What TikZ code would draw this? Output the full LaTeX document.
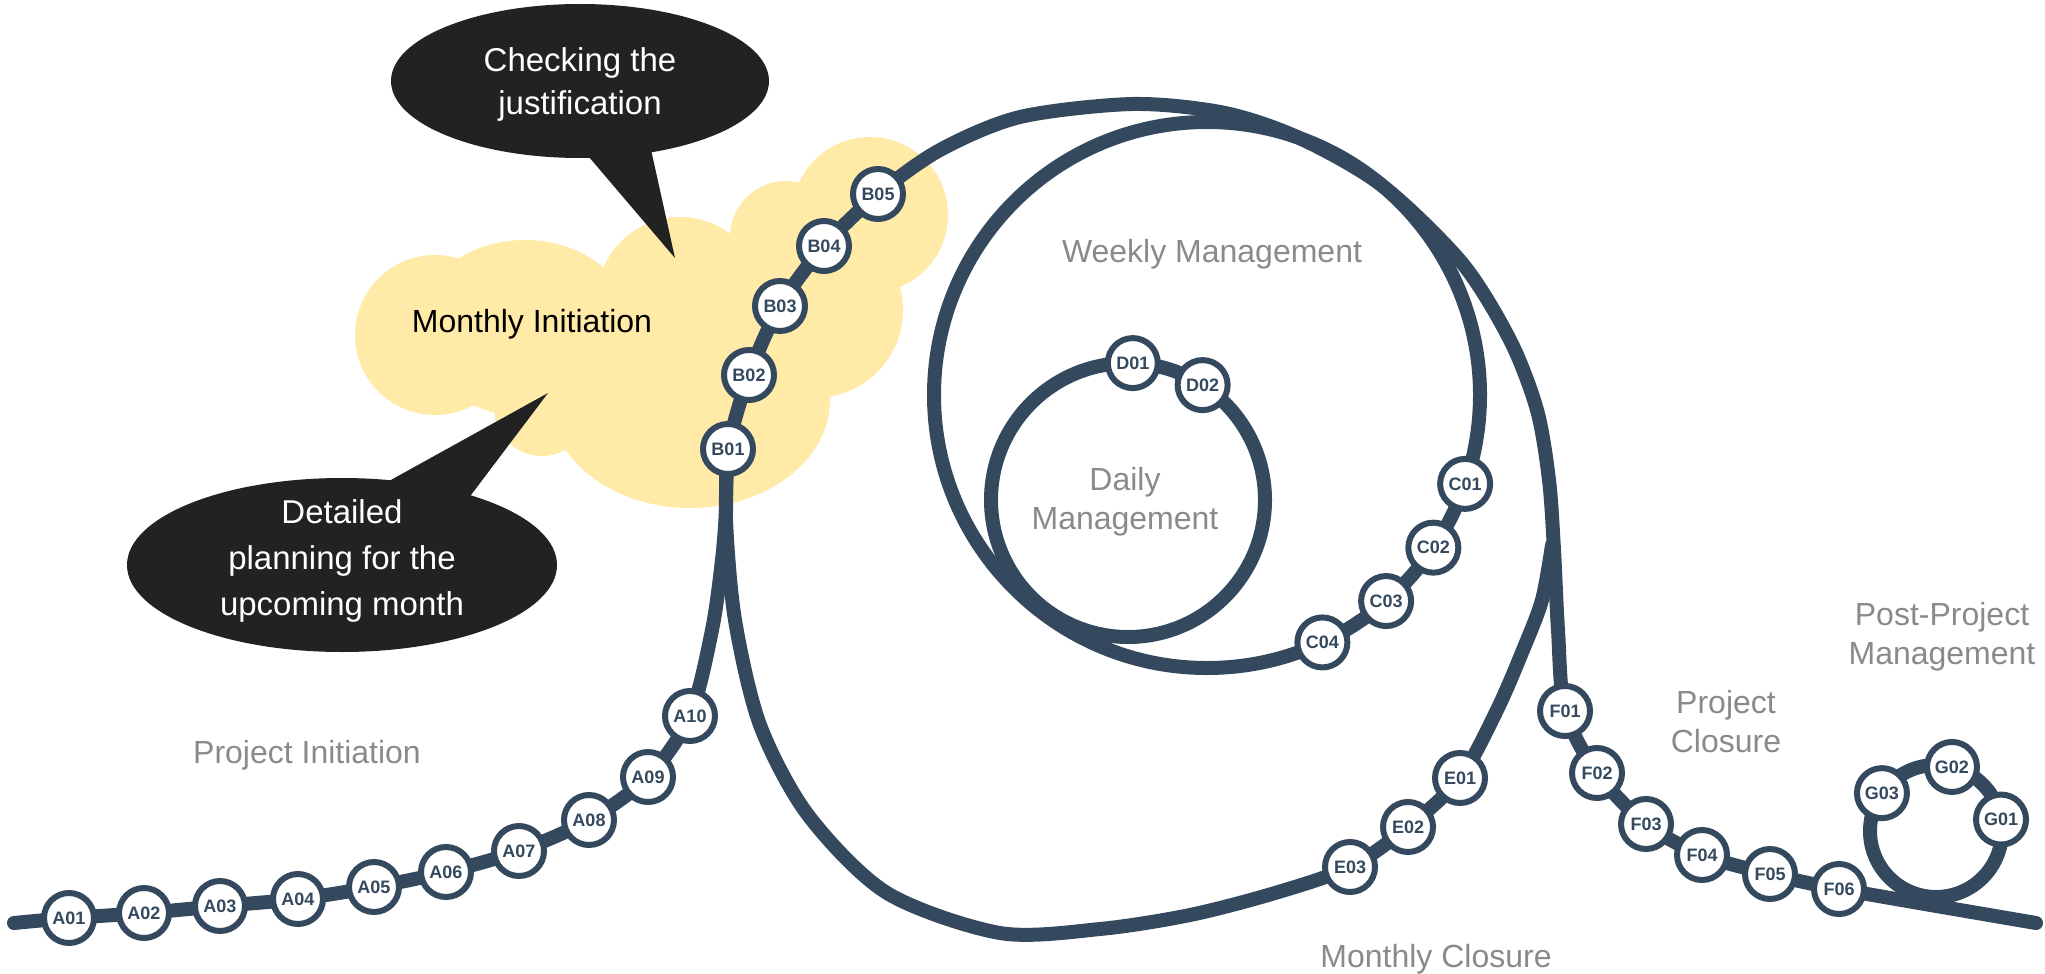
\documentclass[tikz,border=0pt]{standalone}
\usepackage{fontspec}
\setmainfont{Liberation Sans}
\usetikzlibrary{calc}

\definecolor{railblue}{HTML}{34495E}
\definecolor{phasegray}{HTML}{8A8A8A}
\definecolor{cloudyellow}{HTML}{FFEAA7}
\definecolor{bubbleblack}{HTML}{222222}

\pgfdeclarelayer{back}
\pgfdeclarelayer{rail}
\pgfsetlayers{back,rail,main}

\tikzset{
  stop/.style={circle, draw=railblue, fill=white, line width=3pt,
    minimum size=25pt, inner sep=0pt, text=railblue,
    font=\fontsize{9}{9}\selectfont\bfseries},
  track/.style={draw=railblue, line width=7pt, line cap=round, line join=round},
  phase/.style={text=phasegray, align=center, inner sep=0pt,
    font=\fontsize{16}{19.5}\selectfont},
  bubbletext/.style={text=white, align=center, inner sep=0pt},
}

\begin{document}
\begin{tikzpicture}[x=0.5pt, y=-0.5pt]
  \useasboundingbox (0,0) rectangle (2045,974);

  % loop centres
  \coordinate (weekly) at (1207,395);
  \coordinate (daily) at (1128,500);
  \coordinate (post) at (1936,831);
  \coordinate (w70) at ($(weekly)+(-70:273)$);
  \coordinate (w50) at ($(weekly)+(-50:273)$);

  % project initiation
  \node[stop] (A01) at (69,918) {A01};
  \node[stop] (A02) at (144,913) {A02};
  \node[stop] (A03) at (220,906) {A03};
  \node[stop] (A04) at (298,899) {A04};
  \node[stop] (A05) at (374,887) {A05};
  \node[stop] (A06) at (446,872) {A06};
  \node[stop] (A07) at (519,851) {A07};
  \node[stop] (A08) at (589,820) {A08};
  \node[stop] (A09) at (648,777) {A09};
  \node[stop] (A10) at (690,716) {A10};
  % monthly initiation
  \node[stop] (B01) at (728,449) {B01};
  \node[stop] (B02) at (749,375) {B02};
  \node[stop] (B03) at (780,306) {B03};
  \node[stop] (B04) at (824,246) {B04};
  \node[stop] (B05) at (878,194) {B05};
  % weekly and daily loops
  \foreach \n/\a in {01/19,02/34,03/49,04/65}
    \node[stop] (C\n) at ($(weekly)+(\a:273)$) {C\n};
  \foreach \n/\a in {01/-88,02/-57}
    \node[stop] (D\n) at ($(daily)+(\a:137)$) {D\n};
  % monthly closure
  \node[stop] (E01) at (1460,778) {E01};
  \node[stop] (E02) at (1408,827) {E02};
  \node[stop] (E03) at (1350,867) {E03};
  % project closure
  \node[stop] (F01) at (1565,711) {F01};
  \node[stop] (F02) at (1597,773) {F02};
  \node[stop] (F03) at (1646,824) {F03};
  \node[stop] (F04) at (1702,855) {F04};
  \node[stop] (F05) at (1770,874) {F05};
  \node[stop] (F06) at (1839,889) {F06};
  % post-project loop
  \foreach \n/\a in {01/-10,02/-76,03/-145}
    \node[stop] (G\n) at ($(post)+(\a:66)$) {G\n};

  % phase labels
  \node[phase] (weeklylabel) at (1212,254) {Weekly Management};
  \node[phase] (dailylabel) at (1125,502) {Daily\\Management};
  \node[phase] (initlabel) at (307,755) {Project Initiation};
  \node[phase] (closelabel) at (1436,959) {Monthly Closure};
  \node[phase] (projcloselabel) at (1726,722) {Project\\Closure};
  \node[phase] (postlabel) at (1942,637) {Post-Project\\Management};
  \node[inner sep=0pt, font=\fontsize{16}{19.5}\selectfont] (monthinit) at (532,324) {Monthly Initiation};

  % callouts
  \node[bubbletext, font=\fontsize{16.5}{21.5}\selectfont] (justify) at (580,84) {Checking the\\justification};
  \node[bubbletext, font=\fontsize{16.5}{23}\selectfont] (planning) at (342,561) {Detailed\\planning for the\\upcoming month};

  \begin{pgfonlayer}{back}
    % cloud behind monthly initiation
    \foreach \cx/\cy/\r in {435/335/80, 680/300/83, 786/237/56, 870/215/78,
                            815/310/88, 542/408/48, 490/360/45}
      \fill[cloudyellow] (\cx,\cy) circle[radius=\r];
    \fill[cloudyellow] (525,328) ellipse[x radius=108, y radius=88];
    \fill[cloudyellow] (690,400) ellipse[x radius=140, y radius=108];
    \fill[cloudyellow] (435,335) -- (525,328) -- (680,300) -- (786,237) -- (870,215)
      -- (815,310) -- (690,400) -- (542,408) -- (490,360) -- cycle;
  \end{pgfonlayer}

  \begin{pgfonlayer}{rail}
    % callout bodies
    \fill[bubbleblack] (580,81) ellipse[x radius=189, y radius=77];
    \fill[bubbleblack] (583,150) -- (675,258) -- (650,145) -- cycle;
    \fill[bubbleblack] (342,565) ellipse[x radius=215, y radius=87];
    \fill[bubbleblack] (380,486) -- (548,393) -- (465,503) -- cycle;

    % main line
    \draw[track] plot[smooth] coordinates {(14,923) (A01.center) (A02.center) (A03.center)
      (A04.center) (A05.center) (A06.center) (A07.center) (A08.center) (A09.center)
      (A10.center) (712,630) (722,560) (726,510) (B01.center) (B02.center) (B03.center)
      (B04.center) (B05.center) (940,150) (1020,117) (1133,104) (1225,113) (w70) (w50)
      (1462,263) (1510,340) (1537,410) (1549,480) (1554,550) (1558,630) (F01.center)
      (F02.center) (F03.center) (F04.center) (F05.center) (F06.center) (2036,923)};
    % monthly loop
    \draw[track] plot[smooth] coordinates {(B01.center) (726,520) (735,620) (760,725)
      (808,815) (887,893) (1000,933) (1100,929) (1190,915) (1275,893) (E03.center)
      (E02.center) (E01.center) (1497,710) (1523,650) (1542,600) (1552,545)};
    % weekly, daily and post-project loops
    \draw[track] (weekly) circle[radius=273];
    \draw[track] (daily) circle[radius=137];
    \draw[track] (post) circle[radius=66];
  \end{pgfonlayer}
\end{tikzpicture}
\end{document}
